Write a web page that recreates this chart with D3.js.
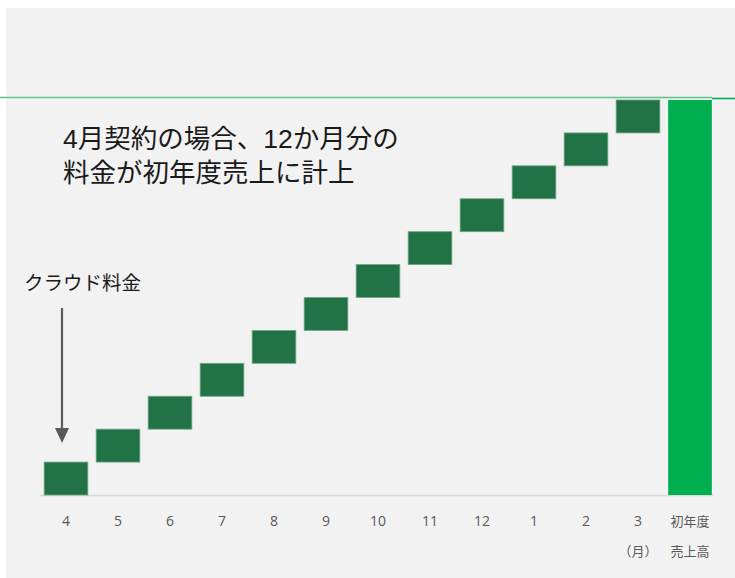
<!DOCTYPE html>
<html><head><meta charset="utf-8">
<script src="https://cdn.jsdelivr.net/npm/d3@7"></script>
<style>body{margin:0;background:#fff}svg{display:block;font-family:"Noto Sans CJK JP","Noto Sans",sans-serif}</style>
</head><body>
<script>
const months = ["4","5","6","7","8","9","10","11","12","1","2","3"];
const monthlyValues = [1,1,1,1,1,1,1,1,1,1,1,1];
const totalLabel = ["初年度","売上高"];
const unitLabel = "（月）";
const titleLines = ["4月契約の場合、12か月分の","料金が初年度売上に計上"];
const noteLabel = "クラウド料金";

const W=735,H=578;
const svg=d3.select("body").append("svg").attr("width",W).attr("height",H);
svg.append("rect").attr("x",6).attr("y",8).attr("width",W-6).attr("height",H-8).attr("fill","#f2f2f2");

const cats=[...months,"total"];
const x=d3.scaleBand().domain(cats).range([40,716]).paddingInner(0.16).paddingOuter(0.08);
const total=d3.sum(monthlyValues);
const y=d3.scaleLinear().domain([0,total]).range([495,100]);

// target line
svg.append("line").attr("x1",0).attr("x2",712).attr("y1",97.5).attr("y2",97.5).attr("stroke","#5cc489").attr("stroke-width",1.6);
svg.append("line").attr("x1",712).attr("x2",735).attr("y1",98.5).attr("y2",98.5).attr("stroke","#00b050").attr("stroke-width",1.6);

// baseline
svg.append("line").attr("x1",40).attr("x2",713).attr("y1",495.5).attr("y2",495.5).attr("stroke","#d9d9d9").attr("stroke-width",1.5);

let cum=0;
const steps=monthlyValues.map((v,i)=>{const s={cat:months[i],start:cum,end:cum+v};cum+=v;return s;});
svg.selectAll("rect.step").data(steps).enter().append("rect").attr("class","step")
 .attr("x",d=>x(d.cat)).attr("width",x.bandwidth())
 .attr("y",d=>y(d.end)).attr("height",d=>y(d.start)-y(d.end))
 .attr("fill","#217346").attr("stroke","#6fa586").attr("stroke-width",0.8);
svg.append("rect").attr("x",x("total")).attr("width",x.bandwidth())
 .attr("y",y(total)).attr("height",y(0)-y(total)).attr("fill","#00b050");

// axis labels
const axis=d3.axisBottom(x).tickSize(0).tickFormat(d=>d==="total"?"":d);
const ag=svg.append("g").attr("transform","translate(0,495)").call(axis);
ag.select(".domain").remove();
ag.selectAll("text").attr("dy",0).attr("y",31).attr("fill","#595959").style("font-size","14px").style("font-family","'Open Sans',sans-serif");
const cx=x("total")+x.bandwidth()/2;
svg.append("text").attr("x",cx).attr("y",526).attr("text-anchor","middle").attr("fill","#595959").style("font-size","13px").text(totalLabel[0]);
svg.append("text").attr("x",cx).attr("y",556).attr("text-anchor","middle").attr("fill","#595959").style("font-size","13px").text(totalLabel[1]);
svg.append("text").attr("x",x("3")+x.bandwidth()/2).attr("y",556).attr("text-anchor","middle").attr("fill","#595959").style("font-size","13px").text(unitLabel);

// title
titleLines.forEach((t,i)=>svg.append("text").attr("x",63).attr("y",148+i*33.5).attr("fill","#1a1a1a")
  .style("font-family","'Liberation Sans','Noto Sans CJK JP',sans-serif").style("font-size","26.5px").text(t));

// note + arrow
svg.append("text").attr("x",24).attr("y",290).attr("fill","#1a1a1a").style("font-size","19.5px").text(noteLabel);
const ax=x("4")+x.bandwidth()/2-4;
svg.append("line").attr("x1",ax).attr("x2",ax).attr("y1",308).attr("y2",432).attr("stroke","#595959").attr("stroke-width",2.2);
svg.append("path").attr("d",`M${ax-7},428 L${ax+7},428 L${ax},443 Z`).attr("fill","#595959");
</script>
</body></html>
